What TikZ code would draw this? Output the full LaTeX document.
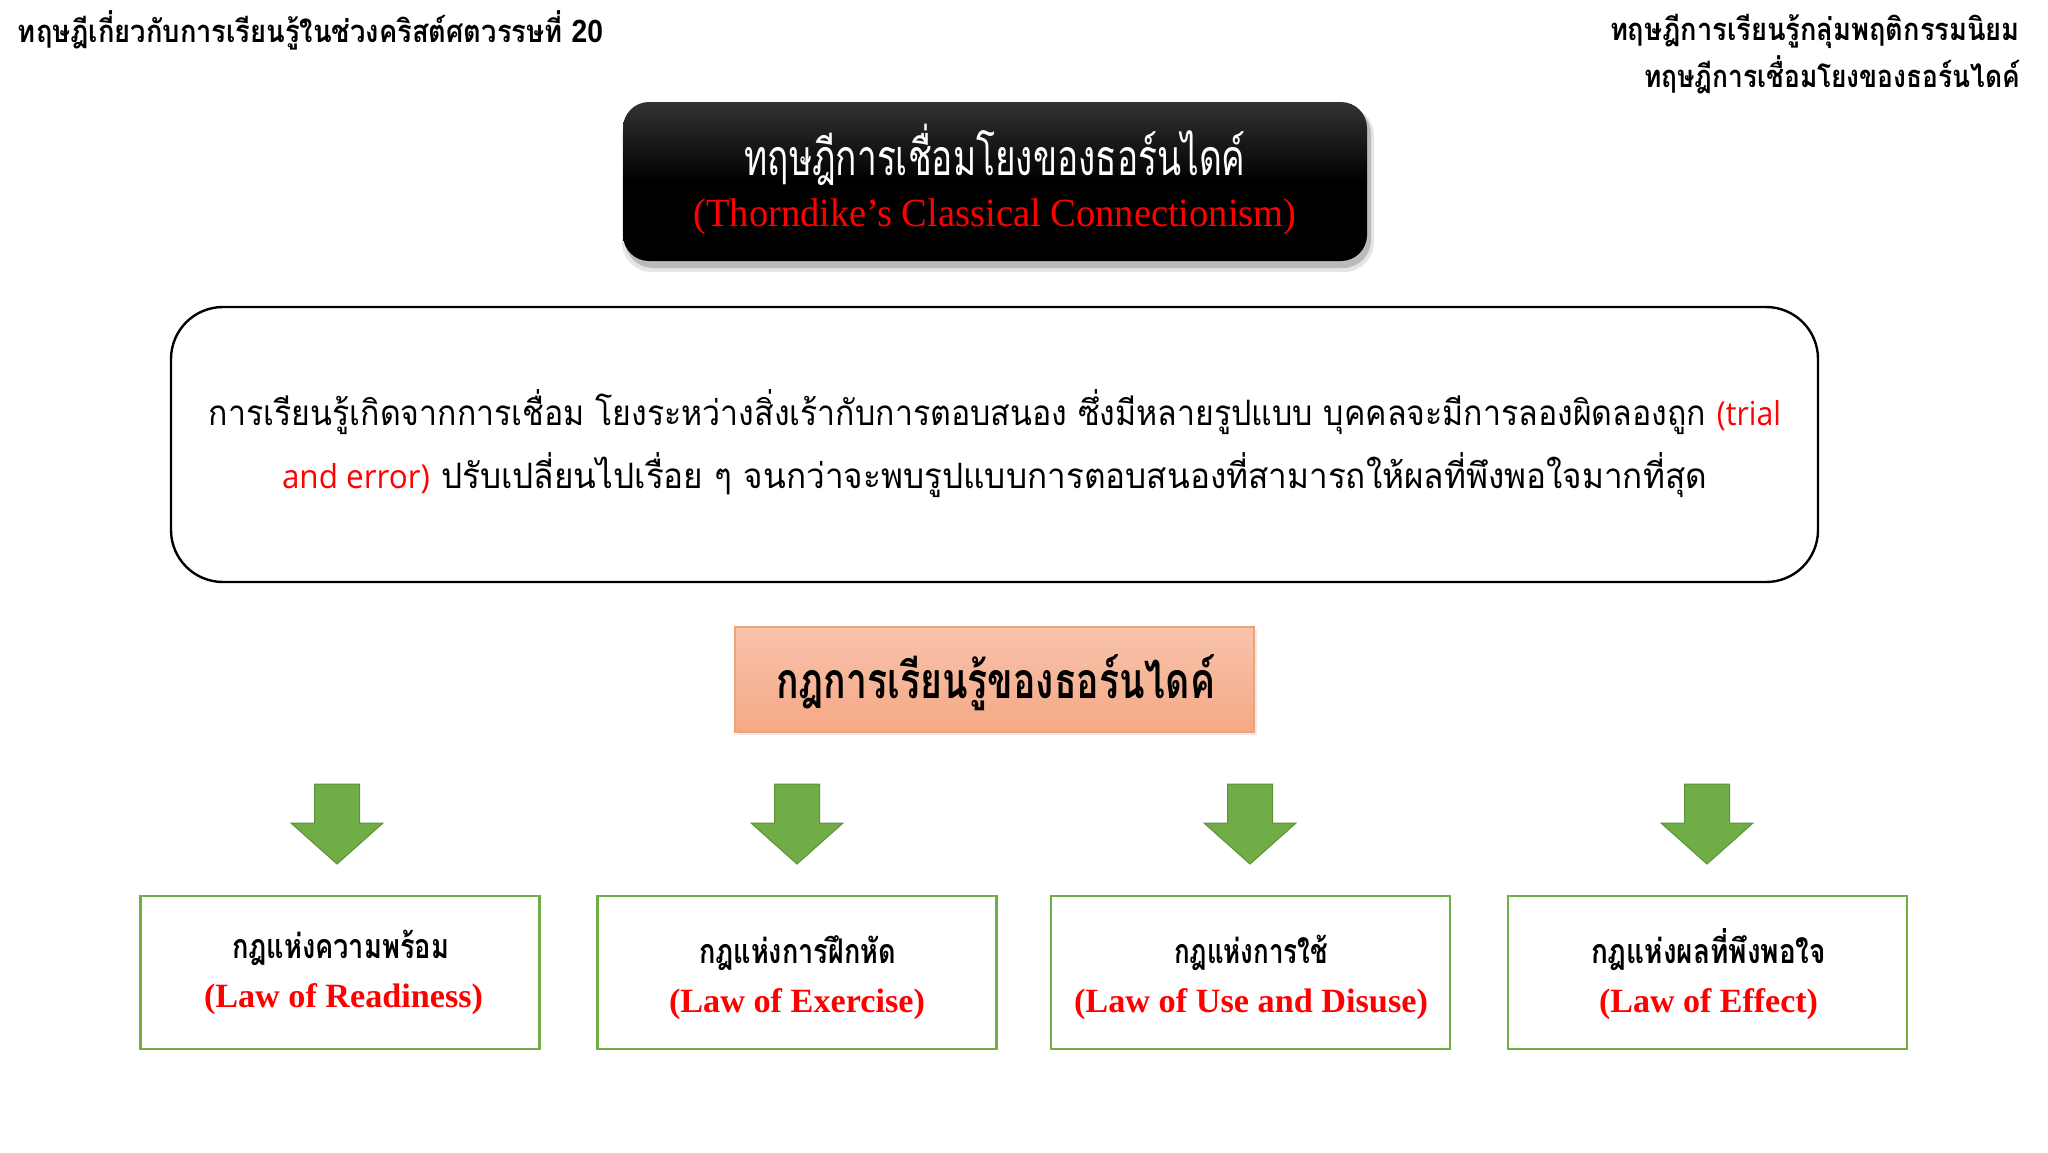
\documentclass[tikz,border=0pt]{standalone}
\usepackage{fontspec}
\usepackage{graphicx}
\setmainfont{Liberation Serif}
\newfontfamily\thai[Script=Thai]{Loma}
\newfontfamily\osans{Open Sans}
\newfontfamily\lsans{Liberation Sans}
\definecolor{lawgreen}{HTML}{70AD47}
\definecolor{arrowedge}{HTML}{5B9239}
\definecolor{redtxt}{HTML}{FF0000}
\definecolor{salmontop}{HTML}{F8C3AB}
\definecolor{salmonbot}{HTML}{F4A985}
\definecolor{salmonedge}{HTML}{EFA278}
\newlength\fitlen
\newcommand\fitx[2]{\settowidth\fitlen{#2}\edef\fitscale{\fpeval{#1*0.5/(\the\fitlen)}}\scalebox{\fitscale}[1]{#2}}
\tikzset{
  lbl/.style={inner sep=0pt, outer sep=0pt},
  titlebox/.style={rounded corners=13pt, top color=black!80!white, bottom color=black, middle color=black, minimum width=372pt, minimum height=79.5pt, inner sep=0pt},
  descbox/.style={draw=black, line width=1.2pt, rounded corners=26pt, fill=white, minimum width=823.5pt, minimum height=137.5pt, inner sep=0pt},
  rulebox/.style={draw=salmonedge, line width=0.6pt, top color=salmontop, bottom color=salmonbot, minimum width=259.5pt, minimum height=52.5pt, inner sep=0pt},
  lawbox/.style={draw=lawgreen, line width=1.2pt, fill=white, minimum width=199.5pt, minimum height=76.5pt, inner sep=0pt},
  blockarrow/.style={fill=lawgreen, draw=arrowedge, line width=0.5pt},
  thaitxt/.style={lbl, anchor=base},
}
\begin{document}
\begin{tikzpicture}[x=0.5pt,y=-0.5pt]
\useasboundingbox (0,0) rectangle (2048,1152);
\fill[white] (0,0) rectangle (2048,1152);

% header texts
\node[lbl, anchor=base west] (hleft) at (18,42)
  {\fitx{585}{\thai\bfseries\fontsize{15.5}{18}\selectfont ทฤษฎีเกี่ยวกับการเรียนรู้ในช่วงคริสต์ศตวรรษที่ {\lsans\bfseries\fontsize{16}{18}\selectfont 20}}};
\node[lbl, anchor=base east] (hright1) at (2020,40)
  {\fitx{410}{\thai\bfseries\fontsize{15.5}{18}\selectfont ทฤษฎีการเรียนรู้กลุ่มพฤติกรรมนิยม}};
\node[lbl, anchor=base east] (hright2) at (2020,87)
  {\fitx{376}{\thai\bfseries\fontsize{15.5}{18}\selectfont ทฤษฎีการเชื่อมโยงของธอร์นไดค์}};

% title box with soft shadow
\fill[black, opacity=0.10, rounded corners=15pt] (622,106) rectangle (1374,272);
\fill[black, opacity=0.18, rounded corners=14pt] (625,106) rectangle (1371,268);
\node[titlebox] (title) at (995,181.5) {};
\node[thaitxt] (titleth) at (995,175)
  {\fitx{501}{\color{white}\thai\fontsize{25}{30}\selectfont ทฤษฎีการเชื่อมโยงของธอร์นไดค์}};
\node[thaitxt] (titleen) at (995,226)
  {\fitx{603}{\color{redtxt}\fontsize{20}{24}\selectfont (Thorndike’s Classical Connectionism)}};

% description box
\node[descbox] (desc) at (994.5,444.5) {};
\node[thaitxt] (desc1) at (995,425)
  {\fitx{1572}{\thai\fontsize{17.5}{20}\selectfont การเรียนรู้เกิดจากการเชื่อม โยงระหว่างสิ่งเร้ากับการตอบสนอง ซึ่งมีหลายรูปแบบ บุคคลจะมีการลองผิดลองถูก {\color{redtxt}\osans\fontsize{16.5}{18}\selectfont (trial}}};
\node[thaitxt] (desc2) at (994.5,488)
  {\fitx{1425}{\thai\fontsize{17.5}{20}\selectfont {\color{redtxt}\osans\fontsize{16.5}{18}\selectfont and error)} ปรับเปลี่ยนไปเรื่อย ๆ จนกว่าจะพบรูปแบบการตอบสนองที่สามารถให้ผลที่พึงพอใจมากที่สุด}};

% rules box
\fill[black, opacity=0.08] (737,630) rectangle (1257,735);
\node[rulebox] (rules) at (994.5,679.5) {};
\node[thaitxt] (rulestxt) at (995.5,698)
  {\fitx{439}{\thai\bfseries\fontsize{25}{30}\selectfont กฎการเรียนรู้ของธอร์นไดค์}};

% block arrows
\foreach \cx/\nm in {337/a1,797/a2,1250/a3,1707/a4}{
  \path[blockarrow] (\cx-22.5,784) -- (\cx+22.5,784) -- (\cx+22.5,823) -- (\cx+46,823)
    -- (\cx,864) -- (\cx-46,823) -- (\cx-22.5,823) -- cycle;
}

% law boxes
\node[lawbox] (law1) at (340,972.5) {};
\node[lawbox] (law2) at (797,972.5) {};
\node[lawbox] (law3) at (1250.5,972.5) {};
\node[lawbox] (law4) at (1707.5,972.5) {};

\node[thaitxt] (law1th) at (340.5,958)
  {\fitx{217}{\thai\bfseries\fontsize{17}{20}\selectfont กฎแห่งความพร้อม}};
\node[thaitxt] (law2th) at (797.5,963)
  {\fitx{197}{\thai\bfseries\fontsize{17}{20}\selectfont กฎแห่งการฝึกหัด}};
\node[thaitxt] (law3th) at (1251,963)
  {\fitx{154}{\thai\bfseries\fontsize{17}{20}\selectfont กฎแห่งการใช้}};
\node[thaitxt] (law4th) at (1708.5,963)
  {\fitx{235}{\thai\bfseries\fontsize{17}{20}\selectfont กฎแห่งผลที่พึงพอใจ}};

\node[thaitxt] (law1en) at (343.5,1007)
  {\fitx{279}{\color{redtxt}\bfseries\fontsize{17}{20}\selectfont (Law of Readiness)}};
\node[thaitxt] (law2en) at (797,1012)
  {\fitx{256}{\color{redtxt}\bfseries\fontsize{17}{20}\selectfont (Law of Exercise)}};
\node[thaitxt] (law3en) at (1251,1012)
  {\fitx{354}{\color{redtxt}\bfseries\fontsize{17}{20}\selectfont (Law of Use and Disuse)}};
\node[thaitxt] (law4en) at (1708.5,1012)
  {\fitx{219}{\color{redtxt}\bfseries\fontsize{17}{20}\selectfont (Law of Effect)}};
\end{tikzpicture}
\end{document}
